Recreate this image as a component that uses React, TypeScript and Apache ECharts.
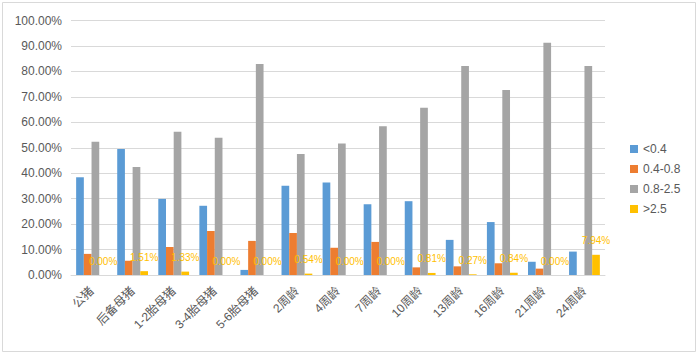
import React, { useEffect, useRef } from "react";
import * as echarts from "echarts";

const categories = ["公猪", "后备母猪", "1-2胎母猪", "3-4胎母猪", "5-6胎母猪", "2周龄", "4周龄", "7周龄", "10周龄", "13周龄", "16周龄", "21周龄", "24周龄"];
const seriesNames = ["<0.4", "0.4-0.8", "0.8-2.5", ">2.5"];
const lt04 = [38.4, 49.5, 29.9, 27.2, 2.0, 35.1, 36.3, 27.8, 29.0, 13.8, 20.8, 5.2, 9.2];
const b04to08 = [8.3, 5.6, 11.0, 17.3, 13.4, 16.5, 10.7, 13.0, 3.0, 3.4, 4.6, 2.5, 0.0];
const b08to25 = [52.4, 42.4, 56.3, 53.9, 82.9, 47.5, 51.7, 58.4, 65.7, 82.1, 72.7, 91.3, 82.1];
const gt25 = [0.0, 1.51, 1.33, 0.0, 0.0, 0.54, 0.0, 0.0, 0.81, 0.27, 0.84, 0.0, 7.94];
const colors = ["#5B9BD5", "#ED7D31", "#A5A5A5", "#FFC000"];

export default function App() {
  const ref = useRef<HTMLDivElement>(null);
  useEffect(() => {
    const chart = echarts.init(ref.current!, null, { renderer: "svg" });
    const data = [lt04, b04to08, b08to25, gt25];
    const font = "Arial, 'Liberation Sans', 'Noto Sans CJK SC', sans-serif";
    chart.setOption({
      animation: false,
      textStyle: { fontFamily: font },
      graphic: [
        {
          type: "rect",
          shape: { x: 2.5, y: 2.5, width: 693, height: 349 },
          style: { fill: "none", stroke: "#d9d9d9", lineWidth: 1 },
          silent: true,
        },
      ],
      grid: { left: 71, right: 95, top: 20.5, bottom: 80 },
      legend: {
        orient: "vertical",
        left: 625,
        top: 138,
        itemWidth: 8,
        itemHeight: 8,
        itemGap: 8,
        icon: "rect",
        textStyle: { color: "#595959", fontSize: 12, fontFamily: font },
        data: seriesNames,
      },
      xAxis: {
        type: "category",
        data: categories,
        axisTick: { show: false },
        axisLine: { lineStyle: { color: "#d9d9d9" } },
        axisLabel: { rotate: 45, color: "#595959", fontSize: 12, margin: 14, interval: 0, fontFamily: font },
      },
      yAxis: {
        type: "value",
        min: 0,
        max: 100,
        interval: 10,
        axisLine: { show: false },
        axisTick: { show: false },
        splitLine: { lineStyle: { color: "#d9d9d9" } },
        axisLabel: {
          color: "#595959",
          fontSize: 12,
          margin: 9,
          fontFamily: font,
          formatter: (v: number) => v.toFixed(2) + "%",
        },
      },
      series: seriesNames.map((name, i) => ({
        name,
        type: "bar",
        data: data[i],
        barGap: "0%",
        barCategoryGap: "25%",
        itemStyle: { color: colors[i] },
        label:
          i === 3
            ? {
                show: true,
                position: "top",
                distance: 9,
                color: "#FFC000",
                fontSize: 10,
                fontFamily: font,
                formatter: (p: any) => Number(p.value).toFixed(2) + "%",
              }
            : { show: false },
      })),
    });
    return () => chart.dispose();
  }, []);
  return <div ref={ref} style={{ position: "fixed", left: 0, top: 0, width: 700, height: 355, background: "#fff" }} />;
}
